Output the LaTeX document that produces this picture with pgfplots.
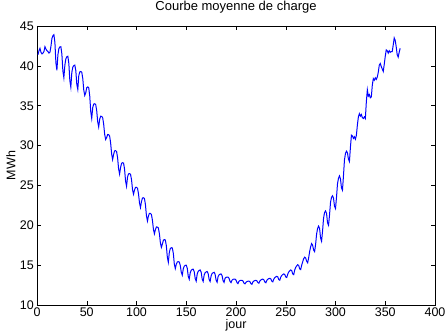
\documentclass[border=0pt]{standalone}
\usepackage{pgfplots}
\pgfplotsset{compat=1.18}
\usepackage{fontspec}
\setmainfont{Liberation Sans}
\begin{document}
\begin{tikzpicture}
\begin{axis}[
  scale only axis,
  width=398bp, height=279bp,
  xmin=0, xmax=400, ymin=10, ymax=45,
  xtick={0,50,...,400}, ytick={10,15,...,45},
  tick align=inside, major tick length=4bp,
  tick style={black, line width=0.5bp},
  axis line style={black, line width=0.5bp},
  /pgf/number format/assume math mode=true,
  tick label style={font=\fontsize{12.5bp}{14bp}\selectfont},
  xticklabel style={anchor=north, inner sep=0pt, yshift=-3bp},
  yticklabel style={anchor=east, inner sep=0pt, xshift=-3bp},
  title={Courbe moyenne de charge},
  title style={font=\fontsize{13bp}{15bp}\selectfont, at={(axis description cs:0.5,1.047)}, anchor=center, inner sep=0pt},
  xlabel={jour},
  xlabel style={font=\fontsize{12.5bp}{14bp}\selectfont, at={(axis description cs:0.5,-0.071)}, anchor=center, inner sep=0pt},
  ylabel={MWh},
  ylabel style={font=\fontsize{12.5bp}{14bp}\selectfont, at={(axis description cs:-0.066,0.5)}, anchor=center, inner sep=0pt},
]
\addplot[color=blue, line width=1bp, mark=none] coordinates {
(1,41.4) (2,41.9) (3,42.2) (4,41.7) (5,41.5) (6,41.6) (7,41.8) (8,42.4) (9,42.1) (10,41.9) (11,41.8) (12,41.6) (13,41.7)
(14,42.44) (15,43.44) (16,43.78) (17,43.9) (18,42.92) (19,40.38) (20,39.45)
(21,41.39) (22,42.17) (23,42.38) (24,42.4) (25,41.47) (26,39.36) (27,38.52)
(28,40.09) (29,40.9) (30,41.15) (31,41.2) (32,40.3) (33,38.16) (34,37.33)
(35,39.18) (36,39.84) (37,40.04) (38,40.1) (39,39.41) (40,37.7) (41,37.05)
(42,38.77) (43,39.24) (44,39.29) (45,39.2) (46,38.41) (47,36.96) (48,36.29)
(49,36.63) (50,37.27) (51,37.36) (52,37.25) (53,36.22) (54,34.29) (55,33.41)
(56,34.76) (57,35.21) (58,35.25) (59,35.15) (60,34.38) (61,32.99) (62,32.34)
(63,33.32) (64,33.68) (65,33.66) (66,33.5) (67,32.69) (68,31.42) (69,30.76)
(70,31.0) (71,31.39) (72,31.37) (73,31.2) (74,30.33) (75,28.96) (76,28.25)
(77,28.9) (78,29.34) (79,29.36) (80,29.25) (81,28.47) (82,27.09) (83,26.43)
(84,27.26) (85,27.77) (86,27.85) (87,27.8) (88,27.05) (89,25.56) (90,24.9)
(91,26.06) (92,26.45) (93,26.49) (94,26.4) (95,25.71) (96,24.48) (97,23.9)
(98,24.42) (99,24.76) (100,24.77) (101,24.65) (102,23.96) (103,22.81) (104,22.23)
(105,22.98) (106,23.42) (107,23.46) (108,23.35) (109,22.57) (110,21.19) (111,20.53)
(112,21.18) (113,21.5) (114,21.49) (115,21.35) (116,20.64) (117,19.51) (118,18.93)
(119,19.46) (120,19.79) (121,19.78) (122,19.65) (123,18.95) (124,17.81) (125,17.23)
(126,17.63) (127,18.12) (128,18.21) (129,18.15) (130,17.42) (131,15.99) (132,15.36)
(133,16.62) (134,17.09) (135,17.19) (136,17.15) (137,16.49) (138,15.15) (139,14.57)
(140,15.12) (141,15.4) (142,15.44) (143,15.4) (144,14.96) (145,14.12) (146,13.74)
(147,14.53) (148,14.87) (149,14.98) (150,15.0) (151,14.62) (152,13.61) (153,13.23)
(154,14.05) (155,14.36) (156,14.47) (157,14.5) (158,14.18) (159,13.31) (160,12.99)
(161,13.88) (162,14.22) (163,14.34) (164,14.4) (165,14.11) (166,13.25) (167,12.96)
(168,13.76) (169,14.05) (170,14.15) (171,14.2) (172,13.95) (173,13.21) (174,12.96)
(175,13.66) (176,13.95) (177,14.05) (178,14.1) (179,13.85) (180,13.11) (181,12.86)
(182,13.56) (183,13.79) (184,13.87) (185,13.9) (186,13.68) (187,13.06) (188,12.84)
(189,13.35) (190,13.47) (191,13.5) (192,13.5) (193,13.35) (194,12.96) (195,12.81)
(196,13.11) (197,13.22) (198,13.25) (199,13.25) (200,13.13) (201,12.81) (202,12.69)
(203,12.98) (204,13.07) (205,13.09) (206,13.1) (207,13.01) (208,12.75) (209,12.66)
(210,12.84) (211,12.94) (212,12.98) (213,13.0) (214,12.92) (215,12.68) (216,12.6)
(217,12.9) (218,13.01) (219,13.07) (220,13.1) (221,13.03) (222,12.81) (223,12.74)
(224,13.01) (225,13.15) (226,13.22) (227,13.25) (228,13.16) (229,12.88) (230,12.79)
(231,13.09) (232,13.24) (233,13.31) (234,13.35) (235,13.27) (236,12.99) (237,12.91)
(238,13.25) (239,13.44) (240,13.53) (241,13.6) (242,13.52) (243,13.19) (244,13.11)
(245,13.51) (246,13.71) (247,13.82) (248,13.9) (249,13.83) (250,13.52) (251,13.45)
(252,13.87) (253,14.14) (254,14.29) (255,14.4) (256,14.31) (257,13.9) (258,13.81)
(259,14.39) (260,14.72) (261,14.91) (262,15.05) (263,14.97) (264,14.53) (265,14.45)
(266,14.99) (267,15.41) (268,15.8) (269,16.0) (270,15.9) (271,15.5) (272,15.3)
(273,15.9) (274,16.7) (275,17.3) (276,17.7) (277,17.5) (278,16.9) (279,16.7)
(280,17.6) (281,18.9) (282,19.6) (283,19.9) (284,19.6) (285,18.4) (286,18.0)
(287,19.3) (288,20.9) (289,21.6) (290,21.8) (291,21.5) (292,20.3) (293,20.0)
(294,21.3) (295,22.9) (296,23.5) (297,23.7) (298,23.4) (299,22.4) (300,22.1)
(301,23.5) (302,25.2) (303,25.9) (304,26.2) (305,25.8) (306,24.7) (307,24.4)
(308,26.2) (309,28.2) (310,29.0) (311,29.3) (312,29.1) (313,28.3) (314,28.0)
(315,29.8) (316,31.3) (317,31.2) (318,30.9) (319,31.1) (320,30.8) (321,31.3)
(322,32.6) (323,33.6) (324,34.0) (325,33.7) (326,33.9) (327,33.5) (328,33.4)
(329,33.6) (330,33.4) (331,35.5) (332,37.0) (333,36.2) (334,36.4) (335,36.0)
(336,36.1) (337,37.6) (338,38.4) (339,38.2) (340,38.5) (341,38.3) (342,38.6)
(343,39.2) (344,40.1) (345,40.3) (346,39.9) (347,39.6) (348,39.3) (349,40.2)
(350,41.2) (351,42.0) (352,41.9) (353,41.6) (354,41.9) (355,41.7) (356,41.8)
(357,41.8) (358,42.6) (359,43.5) (360,43.2) (361,42.4) (362,41.4) (363,41.1)
(364,41.7) (365,42.2)
};
\end{axis}
\pgfresetboundingbox
\path ([xshift=-37bp,yshift=-27bp]current axis.south west) rectangle ([xshift=12bp,yshift=26bp]current axis.north east);
\end{tikzpicture}
\end{document}
